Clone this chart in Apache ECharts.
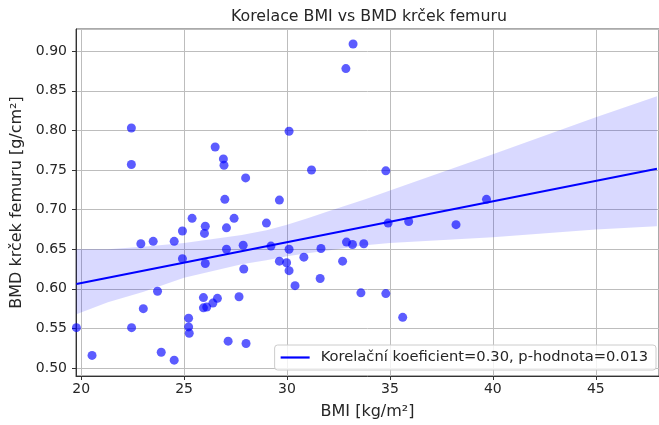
<!DOCTYPE html>
<html>
<head>
<meta charset="utf-8">
<script src="https://cdn.jsdelivr.net/npm/echarts@6/dist/echarts.min.js"></script>
<style>
  html, body { margin: 0; padding: 0; background: #fff; }
  #chart { width: 659px; height: 425px; }
</style>
</head>
<body>
<div id="chart"></div>
<script>
// BMI [kg/m2] and femoral-neck BMD [g/cm2] for each patient
const bmi = [
  22.44, 22.44, 26.51, 26.91, 26.94, 27.99, 26.98, 29.63, 30.10, 31.19,
  33.21, 32.86, 34.80, 39.69, 19.77, 20.53, 22.45, 22.90, 23.02, 23.50,
  23.71, 23.89, 24.52, 24.52, 24.92, 24.92, 25.39, 25.22, 25.22, 25.25,
  26.03, 25.99, 26.03, 25.94, 25.94, 26.10, 26.40, 26.62, 27.06, 27.43,
  27.06, 27.87, 27.90, 27.67, 27.14, 28.01, 29.00, 29.22, 29.63, 29.98,
  30.10, 30.10, 30.39, 30.82, 31.65, 31.61, 32.70, 32.89, 33.18, 33.73,
  33.59, 34.80, 35.62, 34.91, 35.91, 38.21
];
const bmd = [
  0.803, 0.757, 0.779, 0.764, 0.756, 0.740, 0.713, 0.712, 0.799, 0.750,
  0.909, 0.878, 0.749, 0.713, 0.551, 0.516, 0.551, 0.657, 0.575, 0.660,
  0.597, 0.520, 0.660, 0.510, 0.673, 0.638, 0.689, 0.563, 0.552, 0.544,
  0.679, 0.670, 0.632, 0.589, 0.576, 0.577, 0.582, 0.588, 0.677, 0.689,
  0.650, 0.655, 0.625, 0.590, 0.534, 0.531, 0.683, 0.654, 0.635, 0.633,
  0.650, 0.623, 0.604, 0.640, 0.651, 0.613, 0.635, 0.659, 0.656, 0.657,
  0.595, 0.594, 0.564, 0.683, 0.685, 0.681
];

// Regression line end points and its confidence band
const fitX = [19.77, 47.97];
const fitY = [0.606, 0.7516];
const bandX    = [19.77, 21.3, 23.0, 25.0, 27.8, 29.0, 30.0, 31.0, 31.9, 33.8, 35.0, 40.0, 45.0, 47.97];
const bandLow  = [0.568, 0.583, 0.596, 0.614, 0.631, 0.636, 0.641, 0.645, 0.648, 0.655, 0.658, 0.665, 0.675, 0.679];
const bandHigh = [0.650, 0.650, 0.653, 0.658, 0.668, 0.674, 0.681, 0.689, 0.697, 0.713, 0.724, 0.770, 0.8165, 0.843];

const corrR = '0.30';
const corrP = '0.013';
const fitName = 'Korelační koeficient=' + corrR + ', p-hodnota=' + corrP;

const FONT = 'DejaVu Sans';
const TXT = '#262626';

const chart = echarts.init(document.getElementById('chart'), null, { renderer: 'canvas' });

const points = bmi.map((x, i) => [x, bmd[i]]);

chart.setOption({
  animation: false,
  backgroundColor: '#ffffff',
  graphic: [{
    type: 'text',
    x: 369, y: 17,
    style: {
      text: 'Korelace BMI vs BMD krček femuru',
      align: 'center', verticalAlign: 'middle',
      fontFamily: FONT, fontSize: 15.8, fill: TXT
    }
  }],
  grid: {
    left: 76, top: 29, right: -2, bottom: 46,
    show: true, borderColor: '#555', borderWidth: 1
  },
  xAxis: {
    type: 'value',
    min: 19.75, max: 48.07,
    splitNumber: 5,
    name: 'BMI [kg/m²]',
    nameLocation: 'middle',
    nameGap: 28,
    nameTextStyle: { fontFamily: FONT, fontSize: 16, color: TXT },
    axisLine: { lineStyle: { color: '#333', width: 1 } },
    axisTick: { length: 4, lineStyle: { color: '#333' } },
    axisLabel: {
      showMinLabel: false, showMaxLabel: false,
      margin: 6, fontFamily: FONT, fontSize: 14, color: TXT
    },
    splitLine: { lineStyle: { color: '#bdbdbd', width: 1 } }
  },
  yAxis: {
    type: 'value',
    min: 0.49, max: 0.928,
    splitNumber: 9,
    name: 'BMD krček femuru [g/cm²]',
    nameLocation: 'middle',
    nameGap: 50,
    nameTextStyle: { fontFamily: FONT, fontSize: 16, color: TXT },
    axisLine: { show: true, lineStyle: { color: '#333', width: 1 } },
    axisTick: { show: true, length: 4, lineStyle: { color: '#333' } },
    axisLabel: {
      showMinLabel: false, showMaxLabel: false,
      margin: 9, fontFamily: FONT, fontSize: 14, color: TXT,
      formatter: v => v.toFixed(2)
    },
    splitLine: { lineStyle: { color: '#bdbdbd', width: 1 } }
  },
  legend: {
    data: [{ name: fitName, icon: 'rect' }],
    right: 3, top: 345,
    orient: 'horizontal',
    itemWidth: 29, itemHeight: 2.2, itemGap: 10,
    padding: [5, 8, 5, 6],
    backgroundColor: 'rgba(255,255,255,0.8)',
    borderColor: '#cccccc', borderWidth: 1, borderRadius: 3,
    textStyle: { fontFamily: FONT, fontSize: 14.7, color: TXT, padding: [0, 0, 0, 6] }
  },
  series: [
    {
      type: 'scatter',
      name: 'data',
      data: points,
      symbolSize: 9,
      itemStyle: { color: 'rgba(0,0,255,0.8)' },
      z: 2
    },
    {
      type: 'custom',
      name: 'band',
      silent: true,
      clip: true,
      data: [[bandX[0], bandHigh[0]]],
      renderItem: function (params, api) {
        const pts = [];
        for (let i = 0; i < bandX.length; i++) pts.push(api.coord([bandX[i], bandHigh[i]]));
        for (let i = bandX.length - 1; i >= 0; i--) pts.push(api.coord([bandX[i], bandLow[i]]));
        return { type: 'polygon', shape: { points: pts }, style: { fill: 'rgba(0,0,255,0.15)' } };
      },
      z: 3
    },
    {
      type: 'line',
      name: fitName,
      data: fitX.map((x, i) => [x, fitY[i]]),
      symbol: 'none',
      lineStyle: { color: '#0000ff', width: 2 },
      itemStyle: { color: '#0000ff' },
      z: 4
    }
  ]
});
</script>
</body>
</html>
